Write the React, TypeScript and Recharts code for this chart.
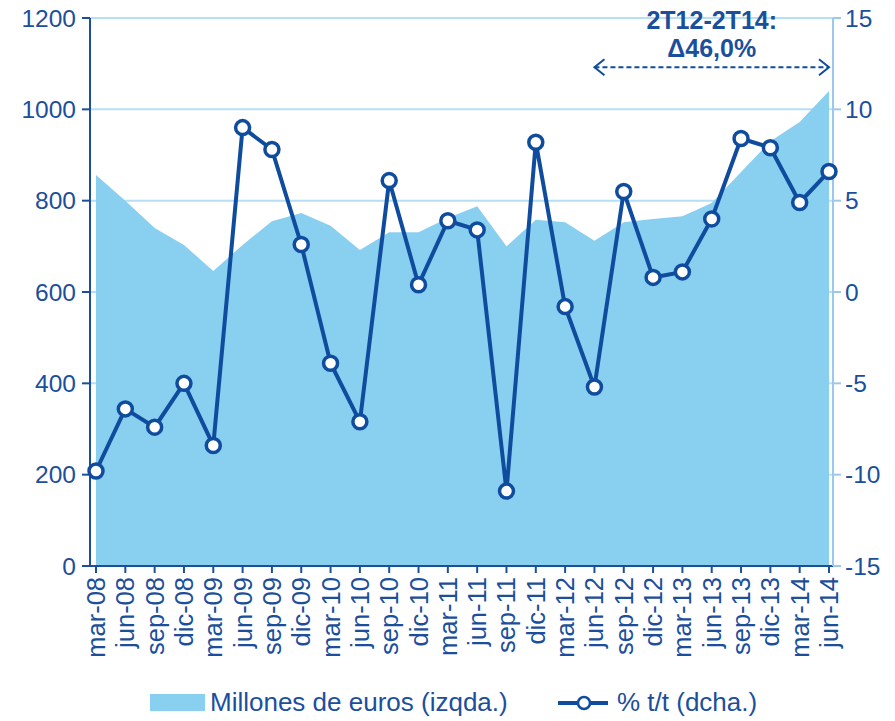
import React from 'react';
import { ComposedChart, Area, Line, XAxis, YAxis, CartesianGrid, Legend, ReferenceLine } from 'recharts';

const categories = ['mar-08','jun-08','sep-08','dic-08','mar-09','jun-09','sep-09','dic-09','mar-10','jun-10','sep-10','dic-10','mar-11','jun-11','sep-11','dic-11','mar-12','jun-12','sep-12','dic-12','mar-13','jun-13','sep-13','dic-13','mar-14','jun-14'];
const millones = [856, 800, 740, 703, 646, 703, 755, 773, 745, 692, 731, 731, 762, 788, 700, 758, 753, 712, 753, 760, 766, 795, 863, 930, 972, 1040];
const tasa = [-9.8, -6.4, -7.4, -5.0, -8.4, 9.0, 7.8, 2.6, -3.9, -7.1, 6.1, 0.4, 3.9, 3.4, -10.9, 8.2, -0.8, -5.2, 5.5, 0.8, 1.1, 4.0, 8.4, 7.9, 4.9, 6.6];
const leftTicks = [0, 200, 400, 600, 800, 1000, 1200];
const rightTicks = [-15, -10, -5, 0, 5, 10, 15];
const annotationTitle = '2T12-2T14:';
const annotationValue = '\u039446,0%';
const annotationFrom = 'jun-12';
const annotationTo = 'jun-14';
const annotationLevel = 12.3;

const data = categories.map((c, i) => ({ cat: c, millones: millones[i], tasa: tasa[i] }));

const TEXT = '#1B4F9C';
const LINE = '#0F4C9E';
const AREA = '#89CFF0';
const FONT = '"Liberation Sans", Arial, sans-serif';

const XTick = (props: any) => {
  const { x, y, payload } = props;
  const ty = y + 2;
  return (
    <text x={x} y={ty} transform={`rotate(-90, ${x}, ${ty})`} textAnchor="end" dominantBaseline="central"
      fill={TEXT} fontSize={25.5} fontFamily={FONT}>{payload.value}</text>
  );
};

const ArrowShape = (props: any) => {
  const { x1, y1, x2 } = props;
  if (x1 == null) return null;
  const mx = (x1 + x2) / 2;
  return (
    <g>
      <line x1={x1} y1={y1} x2={x2} y2={y1} stroke={LINE} strokeWidth={2} strokeDasharray="5 3" />
      <polyline points={`${x1 + 10},${y1 - 8} ${x1},${y1} ${x1 + 10},${y1 + 8}`} fill="none" stroke={LINE} strokeWidth={2} />
      <polyline points={`${x2 - 10},${y1 - 8} ${x2},${y1} ${x2 - 10},${y1 + 8}`} fill="none" stroke={LINE} strokeWidth={2} />
      <text x={mx} y={y1 - 38} textAnchor="middle" fill={TEXT} fontSize={25} fontWeight="bold" fontFamily={FONT}>{annotationTitle}</text>
      <text x={mx} y={y1 - 10} textAnchor="middle" fill={TEXT} fontSize={25} fontWeight="bold" fontFamily={FONT}>{annotationValue}</text>
    </g>
  );
};

const LegendContent = () => (
  <div style={{ position: 'relative', width: 895, height: 36, fontFamily: FONT, color: TEXT, fontSize: 26 }}>
    <div style={{ position: 'absolute', left: 150, top: 9, width: 55, height: 17, background: AREA }} />
    <div style={{ position: 'absolute', left: 210, top: 2, whiteSpace: 'nowrap', lineHeight: '30px' }}>Millones de euros (izqda.)</div>
    <svg style={{ position: 'absolute', left: 556, top: 6 }} width={54} height={24}>
      <line x1={2} y1={12} x2={52} y2={12} stroke={LINE} strokeWidth={4} />
      <circle cx={28} cy={12} r={6} fill="#fff" stroke={LINE} strokeWidth={2.5} />
    </svg>
    <div style={{ position: 'absolute', left: 617, top: 2, whiteSpace: 'nowrap', lineHeight: '30px' }}>% t/t (dcha.)</div>
  </div>
);

export default function App() {
  return (
    <div style={{ position: 'absolute', left: 0, top: 0, width: 895, height: 721, background: '#fff' }}>
      <ComposedChart width={895} height={721} data={data} margin={{ top: 18, right: 0, bottom: 0, left: 0 }}>
        <CartesianGrid yAxisId="left" vertical={false} stroke="#B4DFF5" strokeWidth={2} />
        <XAxis dataKey="cat" interval={0} height={119} tick={<XTick />} tickSize={7} padding={{ left: 6, right: 4 }}
          axisLine={{ stroke: TEXT, strokeWidth: 2 }} tickLine={{ stroke: TEXT, strokeWidth: 2 }} />
        <YAxis yAxisId="left" domain={[0, 1200]} ticks={leftTicks} interval={0} width={90} tickSize={8} tickMargin={6}
          axisLine={{ stroke: TEXT, strokeWidth: 2 }} tickLine={{ stroke: TEXT, strokeWidth: 2 }}
          tick={{ fill: TEXT, fontSize: 24.5, fontFamily: FONT }} />
        <YAxis yAxisId="right" orientation="right" domain={[-15, 15]} ticks={rightTicks} interval={0} width={62} tickSize={8} tickMargin={4}
          axisLine={{ stroke: '#9DC8EE', strokeWidth: 2 }} tickLine={{ stroke: '#9DC8EE', strokeWidth: 2 }}
          tick={{ fill: TEXT, fontSize: 24.5, fontFamily: FONT, textAnchor: 'start' }} />
        <Area yAxisId="left" type="linear" dataKey="millones" fill={AREA} fillOpacity={1} stroke="none" isAnimationActive={false} />
        <Line yAxisId="right" type="linear" dataKey="tasa" stroke={LINE} strokeWidth={4}
          dot={{ r: 7, fill: '#fff', stroke: LINE, strokeWidth: 3.5 }} activeDot={false} isAnimationActive={false} />
        <ReferenceLine yAxisId="right" segment={[{ x: annotationFrom, y: annotationLevel }, { x: annotationTo, y: annotationLevel }]}
          shape={<ArrowShape />} ifOverflow="visible" />
        <Legend verticalAlign="bottom" content={<LegendContent />} wrapperStyle={{ left: 0, width: 895 }} />
      </ComposedChart>
    </div>
  );
}
